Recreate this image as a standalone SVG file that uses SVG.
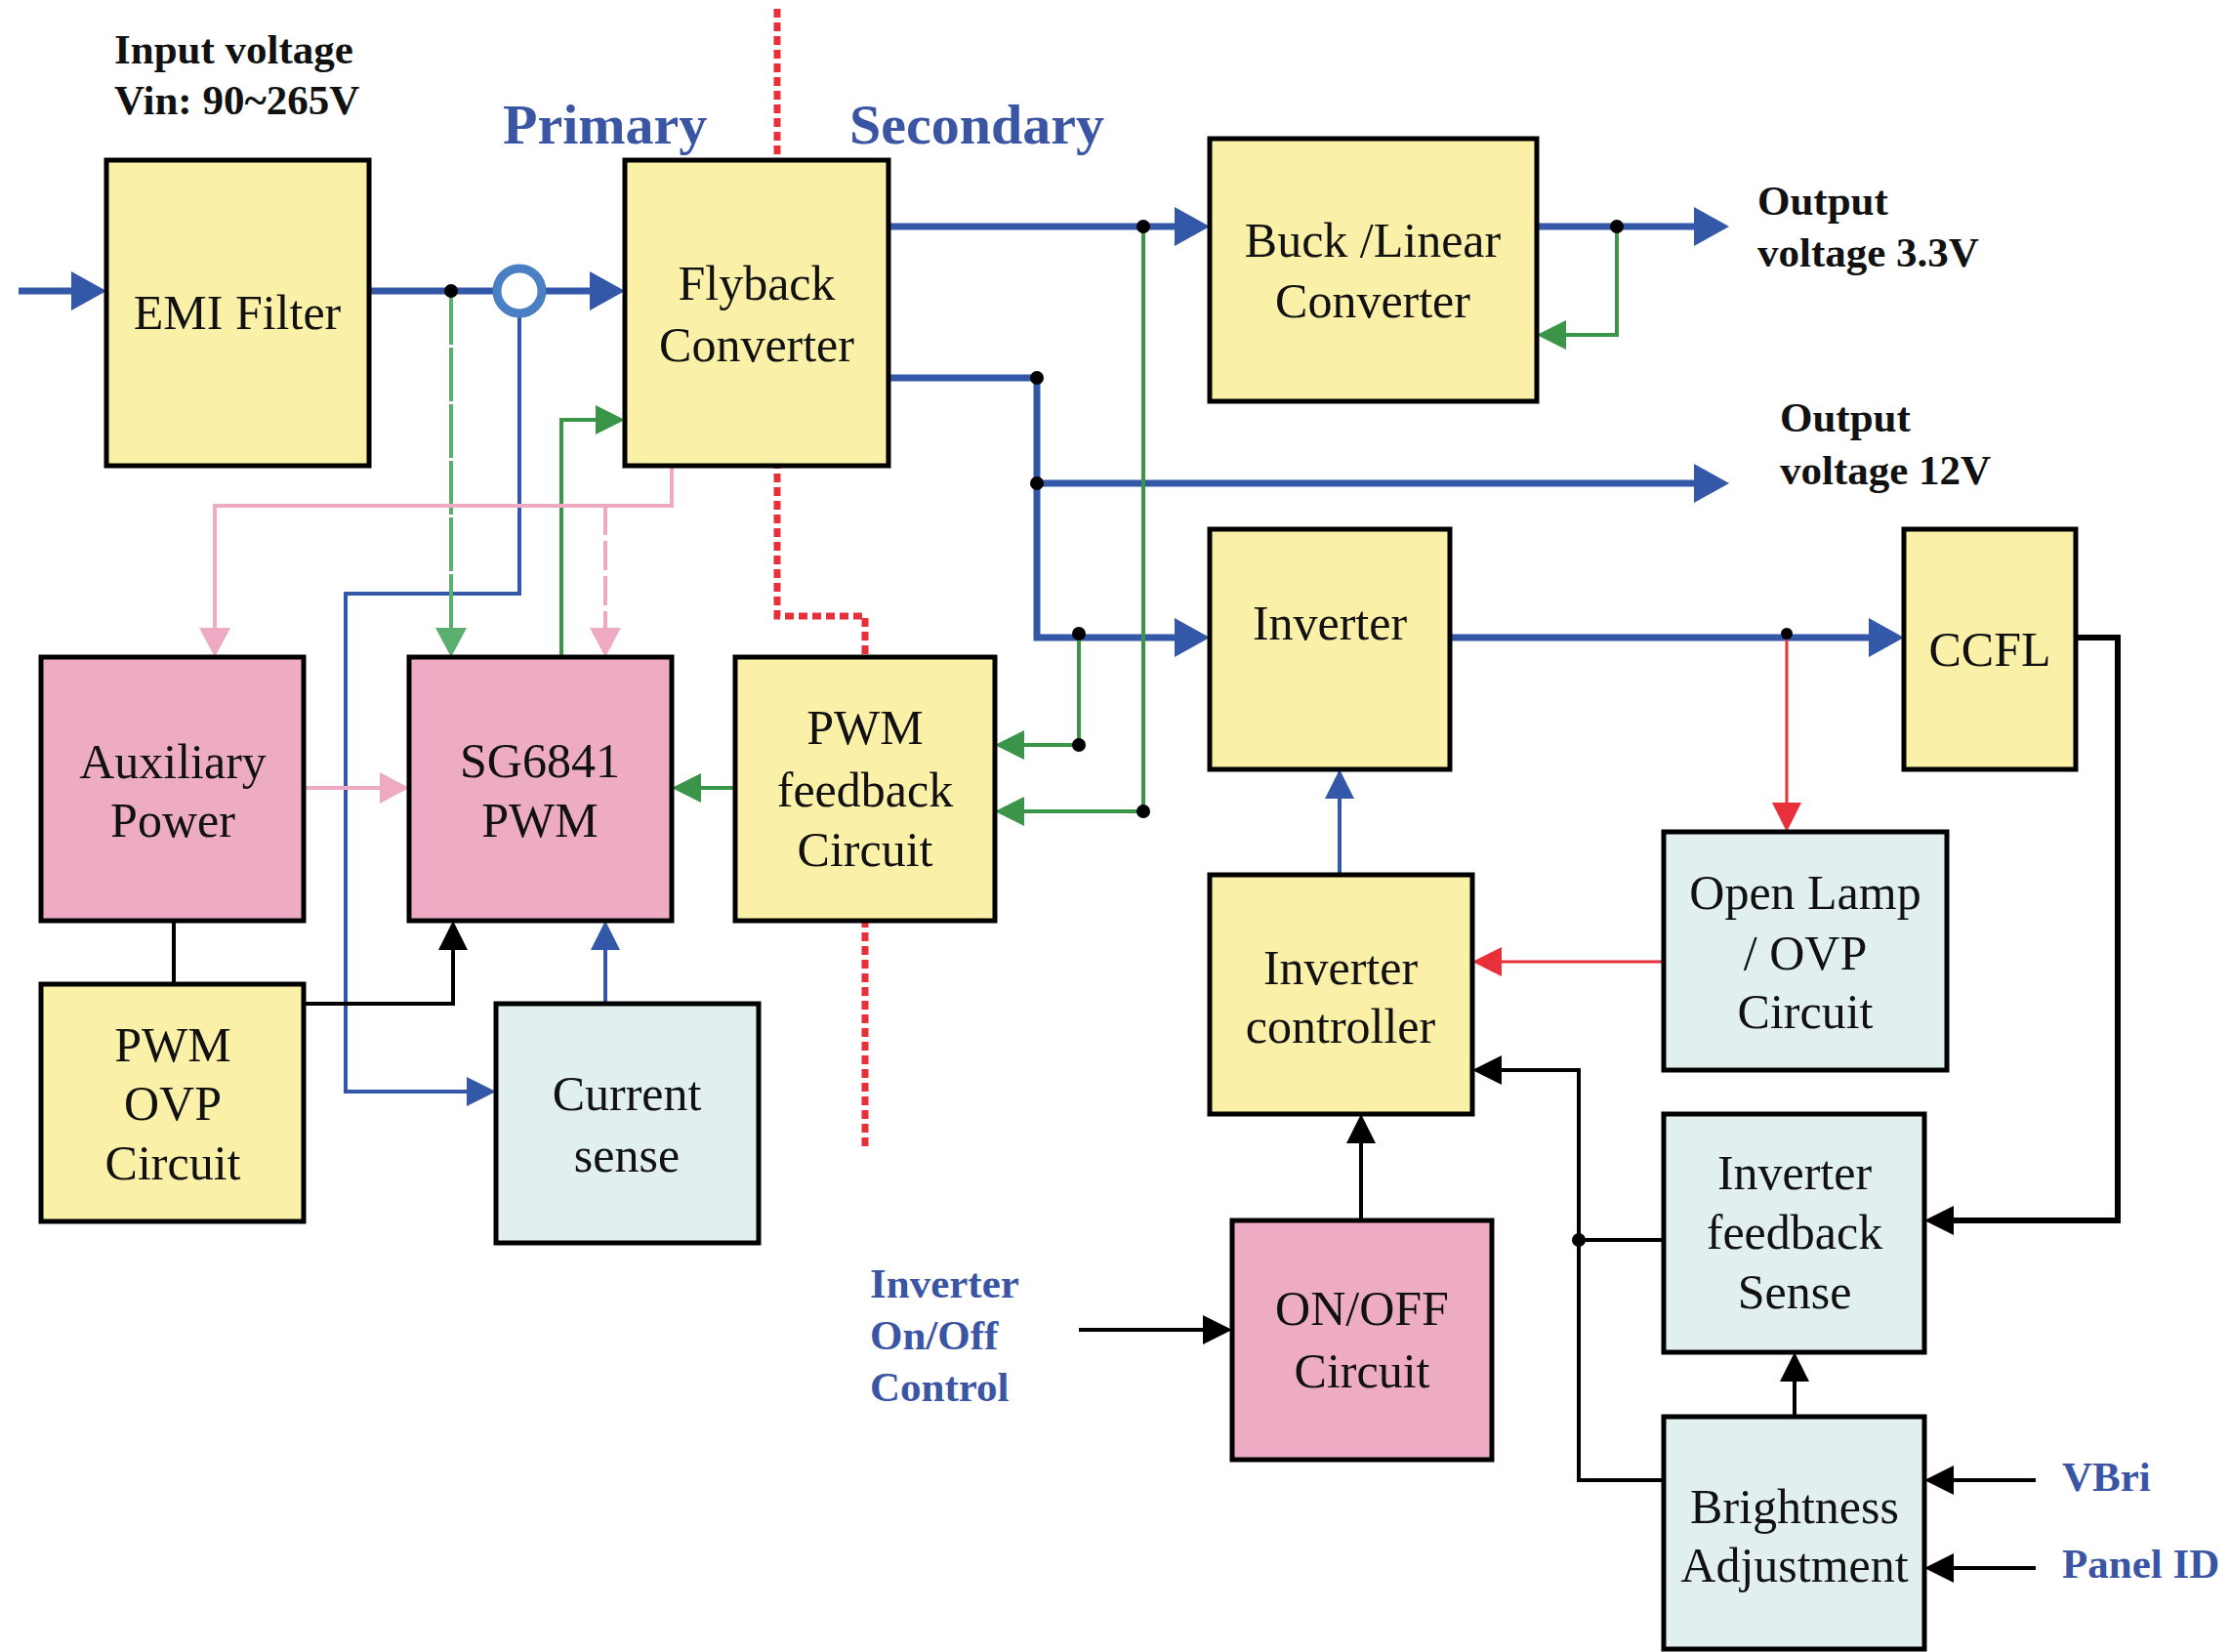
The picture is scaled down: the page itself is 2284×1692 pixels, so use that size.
<svg xmlns="http://www.w3.org/2000/svg" width="2284" height="1692" viewBox="0 0 2284 1692">
<style>
.box{stroke:#000;stroke-width:5}
.y{fill:#faf0a8}.p{fill:#edacc4}.c{fill:#e1f0ef}
.t{font-family:"Liberation Serif","Times New Roman",serif;font-size:50px;text-anchor:middle;fill:#111}
.lb{font-family:"Liberation Serif","Times New Roman",serif;font-size:43px;font-weight:bold;fill:#111}
.lbb{font-family:"Liberation Serif","Times New Roman",serif;font-size:43px;font-weight:bold;fill:#3b55a5}
.hd{font-family:"Liberation Serif","Times New Roman",serif;font-size:58px;font-weight:bold;fill:#3b55a5}
.bl{fill:none;stroke:#3358a8;stroke-width:7}
.bt{fill:none;stroke:#3358a8;stroke-width:4}
.gr{fill:none;stroke:#3b9548;stroke-width:4}
.gl{fill:none;stroke:#5aaf6e;stroke-width:4;stroke-dasharray:55 3}
.pk{fill:none;stroke:#efaac3;stroke-width:4}
.pkd{fill:none;stroke:#efaac3;stroke-width:4;stroke-dasharray:30 6}
.rd{fill:none;stroke:#e8303a;stroke-width:3}
.bk{fill:none;stroke:#000;stroke-width:4}
.bk6{fill:none;stroke:#000;stroke-width:6}
.sep{fill:none;stroke:#e8303a;stroke-width:7;stroke-dasharray:9 5}
.dot{fill:#000}
</style>
<defs>
<marker id="ab" markerUnits="userSpaceOnUse" markerWidth="36" markerHeight="40" refX="1" refY="20" orient="auto"><path d="M0,0 L36,20 L0,40 z" fill="#3358a8"/></marker>
<marker id="abs" markerUnits="userSpaceOnUse" markerWidth="30" markerHeight="30" refX="1" refY="15" orient="auto"><path d="M0,0 L30,15 L0,30 z" fill="#3358a8"/></marker>
<marker id="ag" markerUnits="userSpaceOnUse" markerWidth="30" markerHeight="30" refX="1" refY="15" orient="auto"><path d="M0,0 L30,15 L0,30 z" fill="#3b9548"/></marker>
<marker id="agl" markerUnits="userSpaceOnUse" markerWidth="30" markerHeight="32" refX="1" refY="16" orient="auto"><path d="M0,0 L30,16 L0,32 z" fill="#5aaf6e"/></marker>
<marker id="ap" markerUnits="userSpaceOnUse" markerWidth="30" markerHeight="32" refX="1" refY="16" orient="auto"><path d="M0,0 L30,16 L0,32 z" fill="#efaac3"/></marker>
<marker id="ar" markerUnits="userSpaceOnUse" markerWidth="30" markerHeight="30" refX="1" refY="15" orient="auto"><path d="M0,0 L30,15 L0,30 z" fill="#e8303a"/></marker>
<marker id="ak" markerUnits="userSpaceOnUse" markerWidth="30" markerHeight="30" refX="1" refY="15" orient="auto"><path d="M0,0 L30,15 L0,30 z" fill="#000"/></marker>
</defs>
<rect width="2284" height="1692" fill="#fff"/>
<path class="sep" d="M796,9 V631 H886 V1179"/>
<g id="connectors">
<path class="bl" d="M19,298 H74" marker-end="url(#ab)"/>
<path class="bl" d="M378,298 H605" marker-end="url(#ab)"/>
<path class="bl" d="M910,232 H1204" marker-end="url(#ab)"/>
<path class="bl" d="M910,387 H1062 V653 H1204" marker-end="url(#ab)"/>
<path class="bl" d="M1062,495 H1736" marker-end="url(#ab)"/>
<path class="bl" d="M1574,232 H1736" marker-end="url(#ab)"/>
<path class="bl" d="M1485,653 H1915" marker-end="url(#ab)"/>
<path class="bt" d="M532,321 V608 H354 V1118 H479" marker-end="url(#abs)"/>
<path class="bt" d="M620,1028 V972" marker-end="url(#abs)"/>
<path class="bt" d="M1372,896 V817" marker-end="url(#abs)"/>
<circle cx="532" cy="298" r="23" fill="#fff" stroke="#4a7fc4" stroke-width="9"/>
<path class="gr" d="M1171,232 V831 H1048" marker-end="url(#ag)"/>
<path class="gr" d="M1105,653 V763 H1048" marker-end="url(#ag)"/>
<path class="gr" d="M753,807 H717" marker-end="url(#ag)"/>
<path class="gr" d="M575,673 V430 H611" marker-end="url(#ag)"/>
<path class="gr" d="M1656,232 V343 H1603" marker-end="url(#ag)"/>
<path class="gl" d="M462,298 V644" marker-end="url(#agl)"/>
<path class="pk" d="M688,477 V518 H220 V644" marker-end="url(#ap)"/>
<path class="pkd" d="M620,518 V644" marker-end="url(#ap)"/>
<path class="pk" d="M311,807 H390" marker-end="url(#ap)"/>
<path class="rd" d="M1830,653 V823" marker-end="url(#ar)"/>
<path class="rd" d="M1704,985 H1537" marker-end="url(#ar)"/>
<path class="bk6" d="M2126,653 H2169 V1250 H2000" marker-end="url(#ak)"/>
<path class="bk" d="M1704,1270 H1617"/>
<path class="bk" d="M1704,1516 H1617 V1096 H1537" marker-end="url(#ak)"/>
<path class="bk" d="M1838,1451 V1414" marker-end="url(#ak)"/>
<path class="bk" d="M2085,1516 H2000" marker-end="url(#ak)"/>
<path class="bk" d="M2085,1606 H2000" marker-end="url(#ak)"/>
<path class="bk" d="M1394,1250 V1170" marker-end="url(#ak)"/>
<path class="bk" d="M1105,1362 H1233" marker-end="url(#ak)"/>
<path class="bk" d="M178,943 V1008"/>
<path class="bk" d="M311,1028 H464 V972" marker-end="url(#ak)"/>
<circle class="dot" cx="462" cy="298" r="7"/>
<circle class="dot" cx="1171" cy="232" r="7"/>
<circle class="dot" cx="1062" cy="387" r="7"/>
<circle class="dot" cx="1062" cy="495" r="7"/>
<circle class="dot" cx="1105" cy="649" r="7"/>
<circle class="dot" cx="1105" cy="763" r="7"/>
<circle class="dot" cx="1171" cy="831" r="7"/>
<circle class="dot" cx="1656" cy="232" r="7"/>
<circle class="dot" cx="1830" cy="649" r="6"/>
<circle class="dot" cx="1617" cy="1270" r="7"/>
</g>
<g id="emi"><rect class="box y" x="109" y="164" width="269" height="313"/><text class="t" x="243" y="337">EMI Filter</text></g>
<g id="flyback"><rect class="box y" x="640" y="164" width="270" height="313"/><text class="t" x="775" y="307">Flyback</text><text class="t" x="775" y="370">Converter</text></g>
<g id="buck"><rect class="box y" x="1239" y="142" width="335" height="269"/><text class="t" x="1406" y="263">Buck /Linear</text><text class="t" x="1406" y="325">Converter</text></g>
<g id="aux"><rect class="box p" x="42" y="673" width="269" height="270"/><text class="t" x="177" y="797">Auxiliary</text><text class="t" x="177" y="857">Power</text></g>
<g id="sg6841"><rect class="box p" x="419" y="673" width="269" height="270"/><text class="t" x="553" y="796">SG6841</text><text class="t" x="553" y="857">PWM</text></g>
<g id="pwmfb"><rect class="box y" x="753" y="673" width="266" height="270"/><text class="t" x="886" y="762">PWM</text><text class="t" x="886" y="826">feedback</text><text class="t" x="886" y="887">Circuit</text></g>
<g id="inverter"><rect class="box y" x="1239" y="542" width="246" height="246"/><text class="t" x="1362" y="655">Inverter</text></g>
<g id="ccfl"><rect class="box y" x="1950" y="542" width="176" height="246"/><text class="t" x="2038" y="682">CCFL</text></g>
<g id="openlamp"><rect class="box c" x="1704" y="852" width="290" height="244"/><text class="t" x="1849" y="931">Open Lamp</text><text class="t" x="1849" y="993">/ OVP</text><text class="t" x="1849" y="1053">Circuit</text></g>
<g id="invctrl"><rect class="box y" x="1239" y="896" width="269" height="245"/><text class="t" x="1373" y="1008">Inverter</text><text class="t" x="1373" y="1068">controller</text></g>
<g id="invfb"><rect class="box c" x="1704" y="1141" width="267" height="244"/><text class="t" x="1838" y="1218">Inverter</text><text class="t" x="1838" y="1279">feedback</text><text class="t" x="1838" y="1340">Sense</text></g>
<g id="bright"><rect class="box c" x="1704" y="1451" width="267" height="238"/><text class="t" x="1838" y="1560">Brightness</text><text class="t" x="1838" y="1620">Adjustment</text></g>
<g id="onoff"><rect class="box p" x="1262" y="1250" width="266" height="245"/><text class="t" x="1395" y="1357">ON/OFF</text><text class="t" x="1395" y="1421">Circuit</text></g>
<g id="pwmovp"><rect class="box y" x="42" y="1008" width="269" height="243"/><text class="t" x="177" y="1087">PWM</text><text class="t" x="177" y="1147">OVP</text><text class="t" x="177" y="1208">Circuit</text></g>
<g id="cursense"><rect class="box c" x="508" y="1028" width="269" height="245"/><text class="t" x="642" y="1137">Current</text><text class="t" x="642" y="1200">sense</text></g>
<g id="labels">
<text class="lb" x="117" y="65">Input voltage</text>
<text class="lb" x="117" y="117">Vin: 90~265V</text>
<text class="hd" x="515" y="147">Primary</text>
<text class="hd" x="870" y="147">Secondary</text>
<text class="lb" x="1800" y="220">Output</text>
<text class="lb" x="1800" y="273">voltage 3.3V</text>
<text class="lb" x="1823" y="442">Output</text>
<text class="lb" x="1823" y="496">voltage 12V</text>
<text class="lbb" x="891" y="1329">Inverter</text>
<text class="lbb" x="891" y="1382">On/Off</text>
<text class="lbb" x="891" y="1435">Control</text>
<text class="lbb" x="2112" y="1527">VBri</text>
<text class="lbb" x="2112" y="1616">Panel ID</text>
</g>
</svg>
